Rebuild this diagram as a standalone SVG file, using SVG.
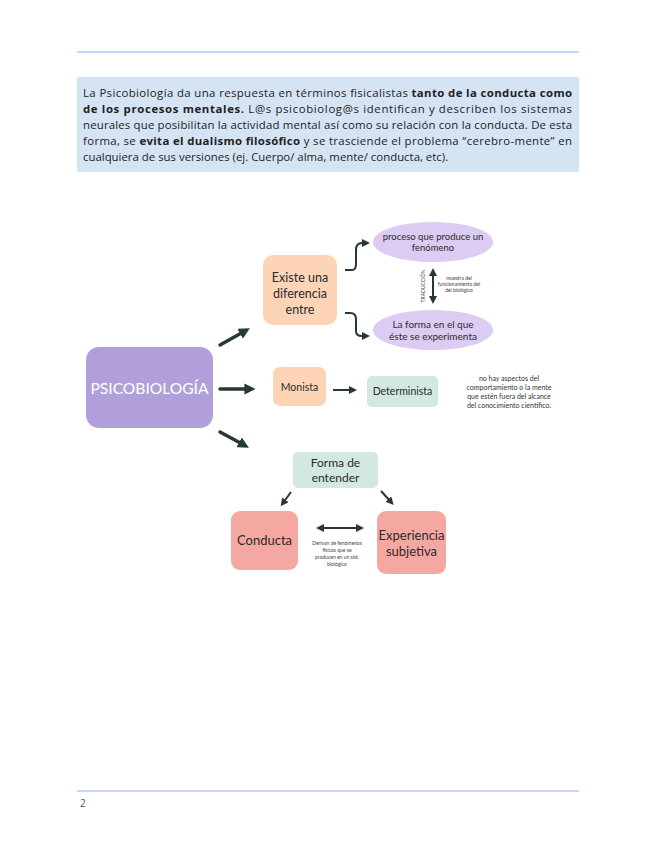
<svg xmlns="http://www.w3.org/2000/svg" width="655" height="848" viewBox="0 0 655 848">
<style>
.body{font-family:"Open Sans","Noto Sans",sans-serif;font-size:11.4px;fill:#222}
.b{font-weight:700}
.hd{font-family:"Lato","Noto Sans",sans-serif;fill:#2b2b2b}
.sm{font-family:"Lato","Noto Sans",sans-serif;fill:#333;font-size:7px}
.tiny{font-family:"Lato","Noto Sans",sans-serif;fill:#444;font-size:5px}
.arr{stroke:#28392f;stroke-width:3.5;fill:none;stroke-linecap:round}
.arr2{stroke:#28392f;stroke-width:2;fill:none}
</style>
<defs>
<marker id="ah" viewBox="0 0 10 10" refX="5" refY="5" markerWidth="3.2" markerHeight="3.2" orient="auto-start-reverse"><path d="M0,0 L10,5 L0,10 z" fill="#28392f"/></marker>
<marker id="ah2" viewBox="0 0 10 10" refX="5" refY="5" markerWidth="4" markerHeight="4" orient="auto-start-reverse"><path d="M0,0 L10,5 L0,10 z" fill="#28392f"/></marker>
</defs>
<rect width="655" height="848" fill="#fff"/>
<line x1="77" y1="52" x2="579" y2="52" stroke="#c3d8f5" stroke-width="2"/>
<rect x="77" y="77" width="502" height="95" fill="#d5e4f3"/>
<text class="body" x="83" y="97" textLength="489" lengthAdjust="spacing">La Psicobiología da una respuesta en términos fisicalistas <tspan class="b">tanto de la conducta como</tspan></text>
<text class="body" x="83" y="113" textLength="489" lengthAdjust="spacing"><tspan class="b">de los procesos mentales.</tspan> L@s psicobiolog@s identifican y describen los sistemas</text>
<text class="body" x="83" y="129" textLength="489" lengthAdjust="spacing">neurales que posibilitan la actividad mental así como su relación con la conducta. De esta</text>
<text class="body" x="83" y="145" textLength="489" lengthAdjust="spacing">forma, se <tspan class="b">evita el dualismo filosófico</tspan> y se trasciende el problema “cerebro-mente” en</text>
<text class="body" x="83" y="161">cualquiera de sus versiones (ej. Cuerpo/ alma, mente/ conducta, etc).</text>

<g id="psicobiologia"><rect x="86" y="347" width="127" height="81" rx="13" fill="#b19fdc"/><text x="149.5" y="394" font-family="Lato, Noto Sans, sans-serif" font-size="15" fill="#fff" text-anchor="middle" textLength="118" lengthAdjust="spacingAndGlyphs">PSICOBIOLOGÍA</text></g>
<g id="existe"><rect x="263" y="255" width="74" height="70" rx="10" fill="#fdd5b6"/><text class="hd" font-size="12.5" text-anchor="middle"><tspan x="300" y="282">Existe una</tspan><tspan x="300" y="298">diferencia</tspan><tspan x="300" y="314">entre</tspan></text></g>
<g id="proceso"><ellipse cx="433" cy="242" rx="60" ry="20" fill="#dccbf3"/><text class="hd" font-size="9.5" text-anchor="middle"><tspan x="433" y="240">proceso que produce un</tspan><tspan x="433" y="251">fenómeno</tspan></text></g>
<g id="forma-experimenta"><ellipse cx="433" cy="330" rx="60" ry="20" fill="#dccbf3"/><text class="hd" font-size="10" text-anchor="middle"><tspan x="433" y="328">La forma en el que</tspan><tspan x="433" y="340">éste se experimenta</tspan></text></g>
<g id="traduccion"><text class="tiny" transform="translate(425,286) rotate(-90)" text-anchor="middle" font-size="6">TRADUCCIÓN</text><text class="tiny" text-anchor="middle"><tspan x="459" y="280">muestra del</tspan><tspan x="459" y="286">funcionamiento del</tspan><tspan x="459" y="292">del biológico</tspan></text></g>
<g id="monista"><rect x="273" y="367" width="53" height="39" rx="7" fill="#fdd5b6"/><text class="hd" font-size="10.5" x="299.5" y="391" text-anchor="middle">Monista</text></g>
<g id="determinista"><rect x="367" y="376" width="71" height="31" rx="5" fill="#d2e8e0"/><text class="hd" font-size="10.5" x="402.5" y="395" text-anchor="middle">Determinista</text></g>
<g id="nota-determinista"><text class="sm" text-anchor="middle"><tspan x="509" y="381">no hay aspectos del</tspan><tspan x="509" y="390">comportamiento o la mente</tspan><tspan x="509" y="399">que estén fuera del alcance</tspan><tspan x="509" y="408">del conocimiento científico.</tspan></text></g>
<g id="forma-entender"><rect x="293" y="452" width="85" height="36" rx="5" fill="#d2e8e0"/><text class="hd" font-size="12" text-anchor="middle"><tspan x="335.5" y="467">Forma de</tspan><tspan x="335.5" y="482">entender</tspan></text></g>
<g id="conducta"><rect x="231" y="511" width="67" height="59" rx="9" fill="#f5a8a2"/><text class="hd" font-size="13" x="264.5" y="545" text-anchor="middle">Conducta</text></g>
<g id="experiencia"><rect x="377" y="511" width="69" height="63" rx="9" fill="#f5a8a2"/><text class="hd" font-size="13" text-anchor="middle"><tspan x="411.5" y="540">Experiencia</tspan><tspan x="411.5" y="556">subjetiva</tspan></text></g>
<g id="nota-conducta"><text class="tiny" text-anchor="middle" font-size="5.5"><tspan x="337" y="545">Derivan de fenómenos</tspan><tspan x="337" y="552">físicos que se</tspan><tspan x="337" y="559">producen en un sist.</tspan><tspan x="337" y="566">biológico</tspan></text></g>

<g id="connectors">
<line class="arr" x1="220" y1="345" x2="245" y2="331" marker-end="url(#ah)"/>
<line class="arr" x1="220" y1="389" x2="250" y2="389" marker-end="url(#ah)"/>
<line class="arr" x1="220" y1="432" x2="244" y2="445" marker-end="url(#ah)"/>
<path class="arr2" d="M345,270 H352 Q356,270 356,264 V250 Q356,243 362,243 H366" marker-end="url(#ah2)"/>
<path class="arr2" d="M345,313 H350 Q356,313 356,319 V331 Q356,336 362,336 H366" marker-end="url(#ah2)"/>
<line class="arr2" x1="433" y1="272" x2="433" y2="300" marker-start="url(#ah2)" marker-end="url(#ah2)"/>
<line class="arr2" x1="333" y1="390" x2="353" y2="390" marker-end="url(#ah2)"/>
<line class="arr2" x1="291" y1="492" x2="283" y2="503" marker-end="url(#ah2)"/>
<line class="arr2" x1="381" y1="491" x2="391" y2="502" marker-end="url(#ah2)"/>
<line class="arr2" x1="320" y1="528" x2="360" y2="528" stroke-width="2.5" marker-start="url(#ah2)" marker-end="url(#ah2)"/>
</g>

<line x1="77" y1="791" x2="579" y2="791" stroke="#c3d8f5" stroke-width="2"/>
<text x="80" y="807" font-family="Open Sans, Noto Sans, sans-serif" font-size="10" fill="#555">2</text>
</svg>
